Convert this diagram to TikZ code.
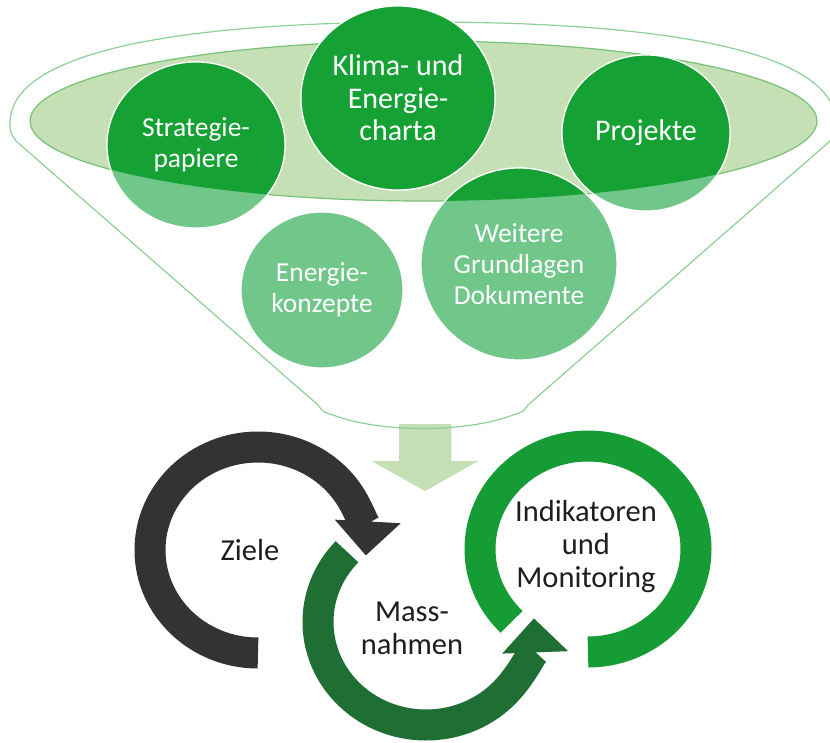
\documentclass[tikz,border=0pt]{standalone}
\usepackage{fontspec}
\setmainfont{Carlito}
\usetikzlibrary{arrows.meta}

\definecolor{circdark}{RGB}{22,161,53}
\definecolor{circlight}{RGB}{112,199,137}
\definecolor{mouthfill}{RGB}{197,224,180}
\definecolor{mouthline}{RGB}{118,194,118}
\definecolor{funnelline}{RGB}{140,208,150}
\definecolor{zielegray}{RGB}{51,51,51}
\definecolor{massgreen}{RGB}{31,110,51}
\definecolor{indigreen}{RGB}{22,156,53}
\definecolor{labelblack}{RGB}{30,30,30}

\tikzset{
  toptext/.style={text=white, align=center, inner sep=0pt, font=\fontsize{27.5}{31}\selectfont},
  bigtext/.style={toptext, font=\fontsize{30}{32.5}\selectfont},
  cyctext/.style={text=labelblack, align=center, inner sep=0pt, font=\fontsize{30.5}{33}\selectfont},
  ringwhite/.style={white, line width=35pt},
  ringcol/.style={line width=31pt},
  headwhite/.style={-{Triangle[length=38pt,width=73pt,line width=0pt]}},
  headcol/.style={-{Triangle[length=34pt,width=66pt,line width=0pt]}},
}

\begin{document}
\begin{tikzpicture}[x=1pt, y=-1pt]
    \useasboundingbox (0,0) rectangle (830,742);
    % arrow out of the funnel
    \draw[white, line width=1.5pt, fill=mouthfill] (398,424) -- (398,460) -- (368,460) -- (425,492) -- (482,460) -- (452,460) -- (452,424);
    % funnel outline
    \draw[funnelline, line width=1.2pt] (10,123) .. controls (10,57) and (155,22) .. (423,22) .. controls (691,22) and (836,57) .. (836,123)
        .. controls (836,132) .. (830,141) -- (528,405) .. controls (523,412) .. (513,415) .. controls (466,433) and (380,433) .. (333,415)
        .. controls (323,412) .. (318,405) -- (16,141) .. controls (10,132) .. cycle;
    % mouth of the funnel
    \draw[mouthline, fill=mouthfill, line width=1.2pt] (423.5,121) ellipse [x radius=393.5, y radius=80];
    % circles, lighter below the mouth
    \foreach \cx/\cy/\rx/\ry in {196/145/89/83, 398/98/97/92, 646/133/84/78, 322/290/81/78, 519/264/98/96}
        \draw[white, line width=1.2pt, fill=circlight] (\cx,\cy) ellipse [x radius=\rx, y radius=\ry];
    \begin{scope}
        \clip (-10,121) -- (30,121) arc[start angle=180, end angle=0, x radius=393.5, y radius=80] -- (840,121) -- (840,-10) -- (-10,-10) -- cycle;
        \foreach \cx/\cy/\rx/\ry in {196/145/89/83, 398/98/97/92, 646/133/84/78, 322/290/81/78, 519/264/98/96}
            \draw[white, line width=1.2pt, fill=circdark] (\cx,\cy) ellipse [x radius=\rx, y radius=\ry];
    \end{scope}
    \node[toptext] (strat) at (196,145) {Strategie-\\papiere};
    \node[bigtext] (klima) at (398,98) {Klima- und\\Energie-\\charta};
    \node[bigtext] (proj) at (646,133) {Projekte};
    \node[toptext] (konz) at (322,290) {Energie-\\konzepte};
    \node[toptext] (weit) at (519,264) {Weitere\\Grundlagen\\Dokumente};
    % cycle
    \draw[ringwhite] (588,549) ++(-225:108 and 103) arc[start angle=-225, end angle=90, x radius=108, y radius=103];
    \draw[ringcol, indigreen] (588,549) ++(-225:108 and 103) arc[start angle=-225, end angle=90, x radius=108, y radius=103];
    \draw[ringwhite, headwhite] (426,622) ++(-137:108 and 103) arc[start angle=-137, end angle=-362, x radius=108, y radius=103];
    \draw[ringcol, headcol, massgreen] (426,622) ++(-137:108 and 103) arc[start angle=-137, end angle=-362, x radius=108, y radius=103];
    \draw[ringwhite, headwhite] (258,550) ++(90:108 and 103) arc[start angle=90, end angle=363, x radius=108, y radius=103];
    \draw[ringcol, headcol, zielegray] (258,550) ++(90:108 and 103) arc[start angle=90, end angle=363, x radius=108, y radius=103];
    \node[cyctext] (ziele) at (250,550) {Ziele};
    \node[cyctext] (mass) at (412,628) {Mass-\\nahmen};
    \node[cyctext] (indi) at (586,547) {Indikatoren\\und\\Monitoring};
\end{tikzpicture}
\end{document}
